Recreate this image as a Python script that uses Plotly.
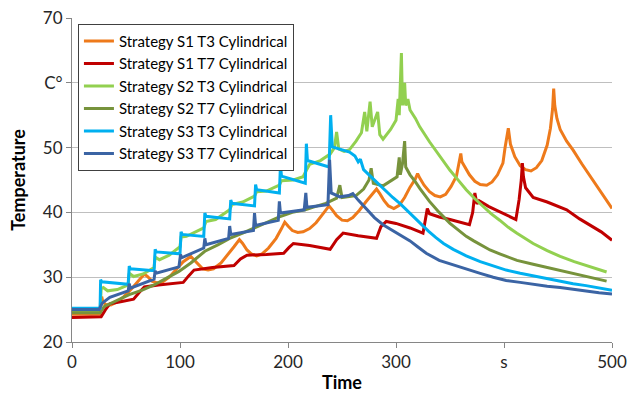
import plotly.graph_objects as go

# ---------------- data ----------------
t_s1_t3 = [0, 26, 27.5, 28.5, 31, 36, 42, 48, 55, 61, 67, 70, 74, 79, 84, 90, 96, 103, 110, 113, 117, 121, 126, 131,
           138, 145, 150, 155, 158, 162, 166, 171, 176, 182, 189, 194, 197, 200, 204, 209, 214, 220, 226, 232, 238,
           241, 245, 250, 255, 260, 266, 272, 278, 282, 285, 289, 293, 298, 303, 308, 313, 318, 320, 322, 326, 331,
           336, 341, 346, 351, 356, 358, 360, 361, 364, 368, 373, 378, 384, 389, 394, 399, 401, 403, 404, 406, 410,
           415, 420, 425, 430, 435, 440, 443, 445, 446, 447, 449, 452, 458, 464, 472, 480, 490, 500]
v_s1_t3 = [24.3, 24.3, 27.0, 26.2, 25.8, 25.7, 26.2, 27.0, 28.2, 29.4, 30.5, 30.1, 29.4, 29.1, 29.3, 30.0, 31.1, 32.4,
           33.2, 32.7, 31.9, 31.3, 31.1, 31.3, 32.2, 33.6, 34.7, 35.8, 35.2, 34.2, 33.6, 33.3, 33.6, 34.5, 36.0, 37.5,
           38.5, 37.9, 37.2, 36.9, 37.0, 37.5, 38.4, 39.7, 41.0, 40.4, 39.5, 38.8, 38.7, 39.2, 40.3, 41.6, 42.8, 43.6,
           42.9, 41.8, 41.0, 40.6, 41.1, 42.3, 43.9, 45.2, 46.0, 45.3, 44.2, 43.2, 42.6, 42.4, 42.8, 44.0, 45.6, 47.2,
           49.1, 47.8, 47.0, 45.8, 44.8, 44.3, 44.2, 44.7, 45.8, 47.6, 50.0, 52.0, 53.0, 50.5, 48.6, 47.2, 46.6, 46.4,
           46.9, 48.0, 50.4, 53.0, 56.0, 59.1, 56.5, 54.5, 52.8, 51.0, 49.6, 47.5, 45.5, 43.0, 40.6]

t_s1_t7 = [0, 27, 31, 35, 45, 57, 62, 67, 80, 103, 108, 113, 130, 150, 156, 162, 180, 196, 201, 205, 220, 239, 245,
           251, 265, 282, 286, 291, 300, 313, 325, 327, 329, 331, 340, 350, 368, 371, 373, 375, 377, 386, 400, 411,
           414, 416, 417, 418, 420, 427, 440, 458, 470, 480, 490, 500]
v_s1_t7 = [23.8, 23.9, 25.0, 25.9, 26.2, 26.6, 27.6, 28.5, 28.8, 29.2, 30.2, 31.1, 31.5, 31.8, 32.8, 33.4, 33.5, 33.7,
           34.6, 35.2, 34.9, 34.3, 35.8, 36.8, 36.4, 36.0, 37.8, 38.6, 38.3, 37.6, 36.8, 38.5, 40.6, 39.8, 39.3, 38.9,
           38.1, 40.0, 43.0, 41.3, 41.8, 40.9, 39.8, 38.9, 42.0, 45.0, 47.6, 45.5, 43.8, 42.3, 41.6, 40.4, 39.0, 38.0,
           37.0, 35.7]

t_s2_t3 = [0, 26, 27, 29, 33, 42, 52, 53, 57, 66, 76, 77, 81, 90, 100, 101, 106, 122, 124, 133, 146, 148, 158, 169,
           171, 180, 192, 194, 205, 214, 217, 220, 230, 239, 243, 245, 247, 252, 257, 263, 268, 271, 273, 276, 278,
           283, 285, 288, 295, 300, 302, 303, 305, 306, 308, 309, 311, 313, 318, 322, 331, 340, 350, 358, 365, 373,
           381, 388, 396, 404, 412, 420, 427, 440, 452, 465, 480, 495]
v_s2_t3 = [24.8, 24.8, 28.2, 28.4, 27.9, 28.1, 28.8, 30.6, 30.1, 30.5, 31.5, 33.1, 32.7, 33.4, 34.7, 36.2, 36.3, 37.6,
           38.6, 38.9, 40.4, 41.2, 41.6, 42.5, 43.2, 43.3, 44.2, 44.9, 45.0, 45.5, 46.5, 47.4, 48.0, 49.0, 50.0, 52.4,
           49.8, 49.4, 49.7, 51.0, 52.3, 55.5, 52.5, 57.1, 53.2, 55.5, 52.0, 51.3, 52.8, 54.2, 57.5, 55.0, 64.6, 56.5,
           60.0, 56.5, 57.5, 55.8, 54.5, 53.2, 50.9, 48.8, 46.5, 44.9, 43.5, 42.1, 40.9, 39.8, 38.8, 37.7, 36.8, 36.0,
           35.2, 34.1, 33.2, 32.4, 31.6, 30.8]

t_s2_t7 = [0, 26, 30, 40, 53, 65, 76, 88, 99, 110, 123, 135, 146, 158, 169, 180, 192, 204, 216, 225, 235, 245, 248,
           250, 263, 270, 275, 277, 279, 288, 295, 301, 303, 304, 306, 308, 309, 313, 318, 322, 331, 340, 350, 358,
           365, 372, 378, 387, 396, 404, 412, 427, 440, 452, 465, 475, 495]
v_s2_t7 = [24.5, 24.5, 25.5, 26.3, 27.3, 28.0, 28.8, 29.9, 30.9, 32.2, 34.0, 35.0, 36.0, 36.8, 37.6, 38.4, 39.3, 40.0,
           40.4, 40.9, 41.4, 42.2, 44.2, 42.3, 42.6, 43.6, 45.0, 46.8, 44.5, 44.1, 44.8, 45.5, 48.5, 45.8, 47.5, 51.0,
           47.0, 45.8, 44.7, 43.7, 41.7, 40.0, 38.3, 37.2, 36.3, 35.6, 35.0, 34.2, 33.6, 33.1, 32.6, 32.0, 31.5, 31.0,
           30.5, 30.1, 29.4]

t_s3_t3 = [0, 26, 26.5, 27.5, 52, 53, 54, 76, 77, 78, 100, 101, 102, 122, 123, 124, 146, 147, 148, 169, 170, 171, 192,
           193, 194, 216, 217, 218, 238, 239.5, 241, 257, 262, 265, 267, 270, 275, 280, 285, 290, 297, 304, 313, 322,
           330, 337, 344, 353, 365, 378, 390, 402, 415, 427, 440, 452, 464, 476, 488, 500]
v_s3_t3 = [25.2, 25.2, 29.6, 29.3, 28.9, 31.7, 31.3, 31.0, 34.3, 33.9, 33.6, 37.0, 36.6, 36.3, 39.9, 39.4, 39.0, 41.9,
           41.4, 41.0, 44.3, 43.5, 43.0, 47.2, 45.6, 44.5, 50.6, 48.0, 47.0, 55.0, 50.1, 49.3, 48.7, 47.8, 48.2, 46.6,
           45.8, 45.0, 44.1, 43.3, 42.3, 41.3, 39.8, 38.3, 37.1, 36.1, 35.2, 34.3, 33.3, 32.4, 31.7, 31.1, 30.6, 30.2,
           29.8, 29.4, 29.0, 28.7, 28.3, 28.0]

t_s3_t7 = [0, 25, 28, 35, 52, 53, 54, 76, 77, 78, 99, 100.5, 101.5, 122, 123, 124, 145, 146, 147, 168, 169, 170, 191,
           192, 193, 215, 216.5, 217.5, 237, 238.5, 240, 248, 256, 260, 265, 273, 280, 288, 296, 304, 313, 320, 328,
           340, 353, 365, 378, 390, 402, 415, 427, 440, 452, 464, 476, 488, 500]
v_s3_t7 = [25.0, 25.0, 26.0, 26.9, 27.9, 29.0, 28.3, 29.7, 31.0, 30.6, 31.6, 33.5, 33.0, 34.5, 36.0, 35.0, 36.0, 37.9,
           36.6, 37.2, 39.9, 38.0, 38.8, 41.7, 39.9, 40.4, 43.0, 40.8, 41.2, 48.1, 43.0, 42.4, 42.6, 42.9, 41.9, 40.4,
           39.2, 38.1, 37.3, 36.6, 35.6, 34.7, 33.7, 32.6, 31.9, 31.2, 30.6, 30.0, 29.5, 29.2, 28.9, 28.6, 28.4, 28.1,
           27.9, 27.6, 27.4]

series_names = ["Strategy S1 T3 Cylindrical", "Strategy S1 T7 Cylindrical", "Strategy S2 T3 Cylindrical",
                "Strategy S2 T7 Cylindrical", "Strategy S3 T3 Cylindrical", "Strategy S3 T7 Cylindrical"]
series_colors = ["#EE7A1B", "#C00000", "#92D050", "#77933C", "#00B0F0", "#3B64A4"]

x_tickvals = [0, 100, 200, 300, 400, 500]
x_ticktext = ["0", "100", "200", "300", "s", "500"]
y_tickvals = [20, 30, 40, 50, 60, 70]
y_ticktext = ["20", "30", "40", "50", "C°", "70"]

# ---------------- figure ----------------
xs = [t_s1_t3, t_s1_t7, t_s2_t3, t_s2_t7, t_s3_t3, t_s3_t7]
ys = [v_s1_t3, v_s1_t7, v_s2_t3, v_s2_t7, v_s3_t3, v_s3_t7]

fig = go.Figure()
for x, y, name, color in zip(xs, ys, series_names, series_colors):
    fig.add_trace(go.Scatter(x=x, y=y, mode="lines", name=name,
                             line=dict(color=color, width=3)))

FONT = "Lato"
fig.update_layout(
    width=633, height=394, autosize=False,
    margin=dict(l=72, r=21, t=18, b=52),
    paper_bgcolor="white", plot_bgcolor="white",
    font=dict(family=FONT, color="#262626"),
    showlegend=True,
    legend=dict(x=0.011, y=0.982, xanchor="left", yanchor="top",
                bgcolor="white", bordercolor="#404040", borderwidth=1,
                font=dict(family=FONT, size=15, color="#000000"),
                traceorder="normal"),
)
fig.update_xaxes(range=[0, 500], tickvals=x_tickvals, ticktext=x_ticktext, automargin=False,
                 showgrid=False, zeroline=False, showline=True, linecolor="#868686", linewidth=1,
                 ticks="outside", ticklen=5, tickcolor="#868686",
                 tickfont=dict(family=FONT, size=17, color="#262626"),
                 title=dict(text="<b>Time</b>", font=dict(family=FONT, size=18, color="#000000"), standoff=4))
fig.update_yaxes(range=[20, 70], tickvals=y_tickvals, ticktext=y_ticktext, automargin=False,
                 showgrid=True, gridcolor="#BFBFBF", gridwidth=1, zeroline=False,
                 showline=True, linecolor="#868686", linewidth=1,
                 ticks="outside", ticklen=5, tickcolor="#868686",
                 tickfont=dict(family=FONT, size=17, color="#262626"),
                 title=dict(text="<b>Temperature</b>", font=dict(family=FONT, size=18, color="#000000"), standoff=12))

fig.write_html("out.html")
